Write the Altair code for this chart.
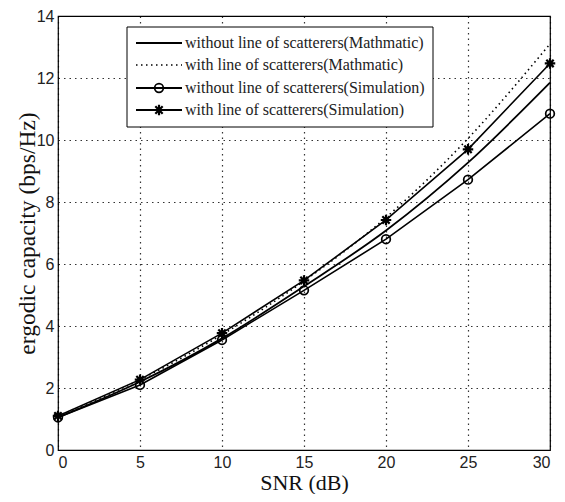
import altair as alt
import pandas as pd

snr = [0, 5, 10, 15, 20, 25, 30]
math_without = [1.05, 2.2, 3.6, 5.28, 7.08, 9.27, 11.85]
math_with = [1.1, 2.27, 3.72, 5.45, 7.5, 10.05, 13.1]
sim_without = [1.05, 2.1, 3.55, 5.15, 6.8, 8.72, 10.85]
sim_with = [1.1, 2.27, 3.77, 5.47, 7.42, 9.7, 12.47]

legend_labels = [
    "without line of scatterers(Mathmatic)",
    "with line of scatterers(Mathmatic)",
    "without line of scatterers(Simulation)",
    "with line of scatterers(Simulation)",
]

x_ticks = [0, 5, 10, 15, 20, 25, 30]
y_ticks = [0, 2, 4, 6, 8, 10, 12, 14]

df_mw = pd.DataFrame({"snr": snr, "cap": math_without})
df_mwi = pd.DataFrame({"snr": snr, "cap": math_with})
df_sw = pd.DataFrame({"snr": snr, "cap": sim_without})
df_swi = pd.DataFrame({"snr": snr, "cap": sim_with})

STAR = "M-1,0L1,0M0,-1L0,1M-0.7,-0.7L0.7,0.7M-0.7,0.7L0.7,-0.7"
STAR_SIZE = 110
CIRC_SIZE = 75

W, H = 492, 434

xenc = alt.X("snr:Q", scale=alt.Scale(domain=[0, 30], nice=False),
             axis=alt.Axis(values=x_ticks, title="SNR (dB)", format="d"))
yenc = alt.Y("cap:Q", scale=alt.Scale(domain=[0, 14], nice=False),
             axis=alt.Axis(values=y_ticks, title="ergodic capacity (bps/Hz)", format="d",
                           titleX=-31, titleY=H / 2, titleBaseline="middle",
                           titleFontSize=23.5))

l1 = alt.Chart(df_mw).mark_line(color="black", strokeWidth=1.8, interpolate="monotone").encode(x=xenc, y=yenc)
l2 = alt.Chart(df_mwi).mark_line(color="black", strokeWidth=1.6, strokeDash=[1.5, 3.5], interpolate="monotone").encode(x=xenc, y=yenc)
l3 = alt.Chart(df_sw).mark_line(color="black", strokeWidth=1.6).encode(x=xenc, y=yenc)
p3 = alt.Chart(df_sw).mark_point(shape="circle", size=CIRC_SIZE, filled=False, color="black", strokeWidth=1.7, opacity=1).encode(x=xenc, y=yenc)
l4 = alt.Chart(df_swi).mark_line(color="black", strokeWidth=1.6).encode(x=xenc, y=yenc)
p4 = alt.Chart(df_swi).mark_point(shape=STAR, size=STAR_SIZE, filled=False, color="black", strokeWidth=2.2, opacity=1).encode(x=xenc, y=yenc)

# legend
one = pd.DataFrame({"k": [0]})
box = alt.Chart(one).mark_rect(fill="white", stroke="black", strokeWidth=1).encode(
    x=alt.value(69), x2=alt.value(375), y=alt.value(11), y2=alt.value(111))
rows_y = [27, 49, 72, 94]
legend_layers = [box]
dashes = [None, [1.5, 3.5], None, None]
for i, lab in enumerate(legend_labels):
    ry = rows_y[i]
    if dashes[i]:
        rule = alt.Chart(one).mark_rule(color="black", strokeWidth=1.6, strokeDash=dashes[i]).encode(
            x=alt.value(78), x2=alt.value(124), y=alt.value(ry))
    else:
        rule = alt.Chart(one).mark_rule(color="black", strokeWidth=1.8).encode(
            x=alt.value(78), x2=alt.value(124), y=alt.value(ry))
    legend_layers.append(rule)
    if i == 2:
        legend_layers.append(alt.Chart(one).mark_point(shape="circle", size=CIRC_SIZE, filled=False, color="black", strokeWidth=1.7, opacity=1).encode(
            x=alt.value(101), y=alt.value(ry)))
    if i == 3:
        legend_layers.append(alt.Chart(one).mark_point(shape=STAR, size=STAR_SIZE, filled=False, color="black", strokeWidth=2.2, opacity=1).encode(
            x=alt.value(101), y=alt.value(ry)))
    txt = alt.Chart(pd.DataFrame({"label": [lab]})).mark_text(
        align="left", baseline="middle", font="Liberation Serif", fontSize=16, color="#222").encode(
        x=alt.value(127), y=alt.value(ry), text="label:N")
    legend_layers.append(txt)

chart = alt.layer(l1, l2, l3, p3, l4, p4, *legend_layers).properties(
    width=W, height=H,
    autosize=alt.AutoSizeParams(type="none"),
    padding={"left": 50, "top": 8, "right": 7, "bottom": 44},
).configure_view(
    stroke="black", strokeWidth=1.2
).configure_axis(
    domain=False, ticks=False,
    labelFont="Liberation Sans Narrow, Liberation Sans", labelFontSize=16, labelColor="#222",
    titleFont="Liberation Serif", titleFontSize=22, titleFontWeight="normal", titleColor="#111",
    grid=True, gridColor="black", gridDash=[1.5, 4], gridOpacity=0.8, gridWidth=1.2,
).configure_axisY(labelPadding=4).configure_axisX(titlePadding=2, labelPadding=4)

chart.save("out.html", embed_options={"renderer": "svg", "actions": False})
